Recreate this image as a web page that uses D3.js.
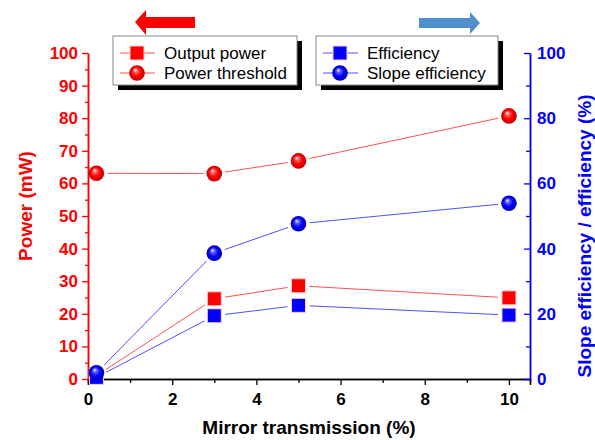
<!DOCTYPE html>
<html><head><meta charset="utf-8">
<script src="https://cdn.jsdelivr.net/npm/d3@7"></script>
<style>body{margin:0;background:#fff}svg{display:block;font-family:"Liberation Sans",Arial,sans-serif}</style>
</head><body><svg id="c" width="595" height="440"></svg>
<script>
const transmission = [0.2, 3, 5, 10];
const outputPower = [1, 24.6, 28.6, 24.9];      // mW, left axis
const powerThreshold = [63.1, 63.0, 66.9, 80.7]; // mW, left axis
const efficiency = [0.5, 19.4, 22.6, 19.6];      // %, right axis
const slopeEfficiency = [1.9, 38.6, 47.6, 53.9]; // %, right axis
const xTicks = [0, 2, 4, 6, 8, 10];
const leftTicks = [0,10,20,30,40,50,60,70,80,90,100];
const rightTicks = [0,20,40,60,80,100];

const svg = d3.select("#c");
const x = d3.scaleLinear().domain([0, 10.5]).range([88, 530]);
const yL = d3.scaleLinear().domain([0, 100]).range([379, 53]);
const yR = d3.scaleLinear().domain([0, 100]).range([379, 53]);
const RED = "#ff0000", BLUE = "#0000ff";

const defs = svg.append("defs");
function grad(id, light, mid, dark){
  const g = defs.append("radialGradient").attr("id", id)
    .attr("cx","50%").attr("cy","50%").attr("r","50%").attr("fx","38%").attr("fy","30%");
  g.append("stop").attr("offset","0%").attr("stop-color","#ffffff");
  g.append("stop").attr("offset","25%").attr("stop-color",light);
  g.append("stop").attr("offset","60%").attr("stop-color",mid);
  g.append("stop").attr("offset","100%").attr("stop-color",dark);
}
grad("gr", "#ff6060", "#ff0000", "#c00000");
grad("gb", "#6060ff", "#0000ff", "#0000b0");

// Axes
const gx = svg.append("g").attr("transform","translate(0,379)")
  .call(d3.axisBottom(x).tickValues(xTicks).tickSize(6).tickFormat(d3.format("d")));
const gxm = svg.append("g").attr("transform","translate(0,379)")
  .call(d3.axisBottom(x).tickValues([1,3,5,7,9]).tickSize(4).tickFormat(""));
[gx, gxm].forEach(g=>{g.selectAll("path,line").attr("stroke","#000").attr("stroke-width",1.3);});
gx.selectAll("text").attr("font-size",17).attr("font-weight","bold").attr("fill","#000").attr("y",11).attr("dy","0.9em");

const gl = svg.append("g").attr("transform","translate(88,0)")
  .call(d3.axisLeft(yL).tickValues(leftTicks).tickSize(6).tickSizeOuter(0).tickFormat(d3.format("d")));
const glm = svg.append("g").attr("transform","translate(88,0)")
  .call(d3.axisLeft(yL).tickValues(leftTicks.slice(0,-1).map(d=>d+5)).tickSize(3).tickSizeOuter(0).tickFormat(""));
[gl, glm].forEach(g=>{g.selectAll("path,line").attr("stroke",RED).attr("stroke-width",1.3);});
gl.selectAll("text").attr("font-size",17).attr("font-weight","bold").attr("fill",RED).attr("x",-10);

const gr = svg.append("g").attr("transform","translate(530,0)")
  .call(d3.axisRight(yR).tickValues(rightTicks).tickSize(-6).tickSizeOuter(0).tickFormat(d3.format("d")));
const grm = svg.append("g").attr("transform","translate(530,0)")
  .call(d3.axisRight(yR).tickValues([10,30,50,70,90]).tickSize(-4).tickSizeOuter(0).tickFormat(""));
[gr, grm].forEach(g=>{g.selectAll("path,line").attr("stroke",BLUE).attr("stroke-width",1.3);});
gr.selectAll("text").attr("font-size",17).attr("font-weight","bold").attr("fill",BLUE).attr("x",7);
svg.selectAll(".domain").attr("stroke-width",1.5);

// Axis titles
svg.append("text").attr("x",309).attr("y",434).attr("text-anchor","middle")
  .attr("font-size",19).attr("font-weight","bold").attr("fill","#000").text("Mirror transmission (%)");
svg.append("text").attr("transform","translate(32,206) rotate(-90)").attr("text-anchor","middle")
  .attr("font-size",19).attr("font-weight","bold").attr("fill",RED).text("Power (mW)");
svg.append("text").attr("transform","translate(591,236) rotate(-90)").attr("text-anchor","middle")
  .attr("font-size",19).attr("font-weight","bold").attr("fill",BLUE).text("Slope efficiency / efficiency (%)");

// Series
const series = [
  {name:"Power threshold", vals:powerThreshold, y:yL, color:RED, line:"#ff5050", shape:"circle", fill:"url(#gr)"},
  {name:"Slope efficiency", vals:slopeEfficiency, y:yR, color:BLUE, line:"#5050ff", shape:"circle", fill:"url(#gb)"},
  {name:"Output power", vals:outputPower, y:yL, color:RED, line:"#ff5050", shape:"square", fill:RED},
  {name:"Efficiency", vals:efficiency, y:yR, color:BLUE, line:"#5050ff", shape:"square", fill:BLUE}
];
function drawMarker(g, s, cx, cy){
  if (s.shape === "circle") {
    g.append("circle").attr("cx",cx).attr("cy",cy).attr("r",7.8).attr("fill",s.fill);
  } else {
    g.append("rect").attr("x",cx-7).attr("y",cy-7).attr("width",14).attr("height",14)
      .attr("fill",s.fill).attr("stroke","#ffd0d0").attr("stroke-width",1);
  }
}
// lines with gaps around markers
series.forEach(s=>{
  const pts = transmission.map((t,i)=>[x(t), s.y(s.vals[i])]);
  for (let i=0;i<pts.length-1;i++){
    const [x1,y1]=pts[i],[x2,y2]=pts[i+1];
    const dx=x2-x1, dy=y2-y1, L=Math.hypot(dx,dy), gap=11;
    if (L<2*gap) continue;
    svg.append("line").attr("x1",x1+dx/L*gap).attr("y1",y1+dy/L*gap)
      .attr("x2",x2-dx/L*gap).attr("y2",y2-dy/L*gap)
      .attr("stroke",s.line).attr("stroke-width",1);
  }
});
const order = [series[2], series[3], series[0], series[1]];
order.forEach(s=>{
  const g = svg.append("g");
  transmission.forEach((t,i)=>drawMarker(g, s, x(t), s.y(s.vals[i])));
});

// Legends
function legend(x0, y0, w, h, items){
  const g = svg.append("g");
  g.append("rect").attr("x",x0+5).attr("y",y0+5).attr("width",w).attr("height",h).attr("fill","#000");
  g.append("rect").attr("x",x0).attr("y",y0).attr("width",w).attr("height",h)
    .attr("fill","#fff").attr("stroke","#888").attr("stroke-width",1);
  items.forEach((s,i)=>{
    const cy = y0 + 17 + i*20;
    g.append("line").attr("x1",x0+7).attr("x2",x0+17).attr("y1",cy).attr("y2",cy).attr("stroke",s.line);
    g.append("line").attr("x1",x0+30).attr("x2",x0+42).attr("y1",cy).attr("y2",cy).attr("stroke",s.line);
    drawMarker(g, s, x0+24, cy);
    g.append("text").attr("x",x0+51).attr("y",cy+6).attr("font-size",17).attr("fill","#000").text(s.name);
  });
}
legend(113, 36, 184, 49, [series[2], series[0]]);
legend(316, 36, 182, 49, [series[3], series[1]]);

// Arrows
svg.append("path").attr("d","M135,22 L146,10 L146,17 L195,17 L195,28 L146,28 L146,35 Z").attr("fill",RED);
svg.append("path").attr("d","M480,23 L470,12 L470,18 L419,18 L419,28 L470,28 L470,34 Z").attr("fill","#4f8fcc");
</script></body></html>
